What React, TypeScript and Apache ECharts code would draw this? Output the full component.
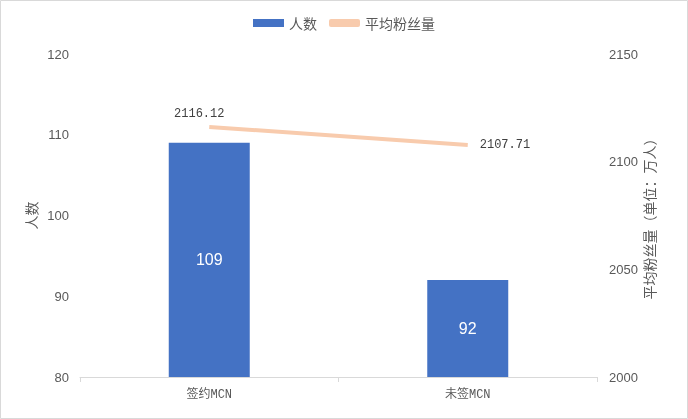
import React, { useEffect, useRef } from "react";
import * as echarts from "echarts";

const categories = ["签约MCN", "未签MCN"];
const headcount = [109, 92];
const avgFans = [2116.12, 2107.71];
const leftTicks = { min: 80, max: 120, interval: 10 };
const rightTicks = { min: 2000, max: 2150, interval: 50 };

export default function App() {
  const ref = useRef<HTMLDivElement>(null);
  useEffect(() => {
    document.body.style.margin = "0";
    const chart = echarts.init(ref.current!, null, { renderer: "svg" });
    const tickFont = '"Liberation Sans Narrow", "Arial Narrow", "Liberation Sans", sans-serif';
    chart.setOption({
      animation: false,
      graphic: [
        {
          type: "rect",
          shape: { x: 0.5, y: 0.5, width: 687, height: 418 },
          style: { fill: "none", stroke: "#D9D9D9", lineWidth: 1 },
        },
      ],
      legend: {
        top: 11,
        left: "center",
        itemGap: 12,
        textStyle: { color: "#595959", fontSize: 14, fontFamily: '"Noto Sans CJK SC", sans-serif' },
        data: [
          { name: "人数", icon: "rect", itemStyle: { color: "#4472C4" } },
          { name: "平均粉丝量", icon: "roundRect" },
        ],
        itemWidth: 31,
        itemHeight: 8,
      },
      grid: { left: 80, right: 91, top: 54, bottom: 42, containLabel: false },
      xAxis: {
        type: "category",
        data: categories,
        axisLine: { lineStyle: { color: "#D9D9D9" } },
        axisTick: { show: true, alignWithLabel: false, lineStyle: { color: "#D9D9D9" } },
        axisLabel: {
          color: "#595959",
          fontSize: 12,
          margin: 12,
          fontFamily: '"Liberation Mono", "Noto Sans CJK SC", monospace',
        },
      },
      yAxis: [
        {
          type: "value",
          ...leftTicks,
          name: "人数",
          nameLocation: "middle",
          nameRotate: 90,
          nameGap: 42,
          nameMoveOverlap: false,
          nameTextStyle: { color: "#595959", fontSize: 14, fontFamily: '"Noto Sans CJK SC", sans-serif' },
          splitLine: { show: false },
          axisLine: { show: false },
          axisTick: { show: false },
          axisLabel: { color: "#595959", fontSize: 13, margin: 11, fontFamily: tickFont },
        },
        {
          type: "value",
          ...rightTicks,
          name: "平均粉丝量（单位：万人）",
          nameLocation: "middle",
          nameRotate: 90,
          nameGap: 45,
          nameMoveOverlap: false,
          nameTextStyle: { color: "#595959", fontSize: 14, fontFamily: '"Noto Sans CJK SC", sans-serif' },
          splitLine: { show: false },
          axisLine: { show: false },
          axisTick: { show: false },
          axisLabel: {
            color: "#595959",
            fontSize: 13,
            margin: 12,
            fontFamily: tickFont,
            formatter: (v: number) => String(v),
          },
        },
      ],
      series: [
        {
          name: "人数",
          type: "bar",
          yAxisIndex: 0,
          data: headcount,
          barWidth: 81,
          itemStyle: { color: "#4472C4" },
          label: {
            show: true,
            position: "inside",
            color: "#FFFFFF",
            fontSize: 16,
            fontFamily: tickFont,
          },
        },
        {
          name: "平均粉丝量",
          type: "line",
          yAxisIndex: 1,
          symbol: "circle",
          symbolSize: 0,
          showSymbol: true,
          lineStyle: { color: "#F8CBAD", width: 4 },
          itemStyle: { color: "#F8CBAD" },
          data: [
            {
              value: avgFans[0],
              label: { show: true, position: "top", offset: [-10, -2] },
            },
            {
              value: avgFans[1],
              label: { show: true, position: "right", distance: 12 },
            },
          ],
          label: {
            show: true,
            color: "#404040",
            fontSize: 12,
            fontFamily: '"Liberation Mono", monospace',
            formatter: (p: any) => Number(p.value).toFixed(2),
          },
        },
      ],
    });
    return () => chart.dispose();
  }, []);
  return <div ref={ref} style={{ position: "fixed", left: 0, top: 0, width: 688, height: 419 }} />;
}
